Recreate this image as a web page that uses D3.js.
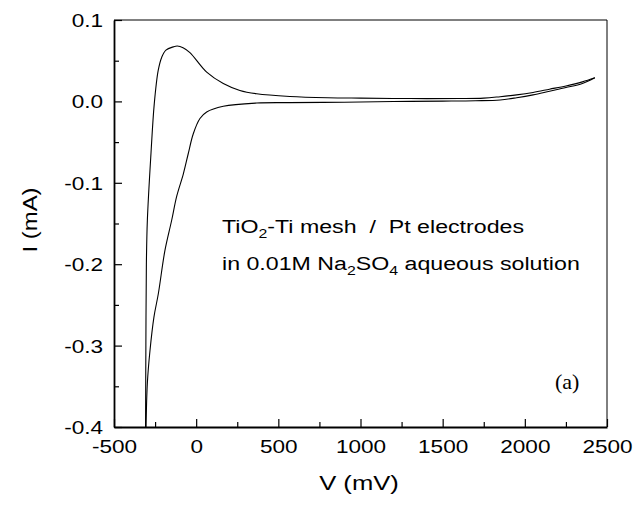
<!DOCTYPE html>
<html>
<head>
<meta charset="utf-8">
<script src="https://cdn.jsdelivr.net/npm/d3@7"></script>
<style>
  html, body { margin: 0; padding: 0; background: #fff; }
  svg { display: block; }
  text { font-family: "Liberation Sans", Arial, Helvetica, sans-serif; fill: #000; white-space: pre; }
</style>
</head>
<body>
<svg id="chart" width="637" height="507"></svg>
<script>
// ---- data ----
const forwardV = [-308, -306, -303, -297, -275, -255, -231, -210, -184, -139, -115, -80, -38, 64, 165, 266, 368, 570, 800, 1000, 1300, 1600, 1750, 1850, 1950, 2050, 2150, 2250, 2350, 2426];
const forwardI = [-0.4, -0.3, -0.2, -0.146, -0.064, -0.003, 0.038, 0.054, 0.063, 0.067, 0.068, 0.066, 0.060, 0.036, 0.022, 0.0135, 0.0094, 0.0061, 0.0045, 0.004, 0.0035, 0.0035, 0.004, 0.0058, 0.008, 0.011, 0.015, 0.019, 0.024, 0.029];
const reverseV = [2426, 2350, 2250, 2150, 2050, 1950, 1850, 1700, 1500, 1200, 900, 570, 368, 165, 64, 23, -18, -48, -78, -119, -149, -190, -230, -257, -281, -297, -305];
const reverseI = [0.029, 0.022, 0.017, 0.0125, 0.008, 0.0045, 0.0018, 0.0008, 0.0003, -0.0002, -0.001, -0.0015, -0.002, -0.006, -0.013, -0.021, -0.040, -0.064, -0.089, -0.117, -0.146, -0.183, -0.236, -0.265, -0.306, -0.346, -0.4];
const xTicks = [-500, 0, 500, 1000, 1500, 2000, 2500];
const xMinor = [-250, 250, 750, 1250, 1750, 2250];
const yTicks = [-0.4, -0.3, -0.2, -0.1, 0.0, 0.1];
const yMinor = [-0.35, -0.25, -0.15, -0.05, 0.05];
const xTitle = "V (mV)";
const yTitle = "I (mA)";

// ---- layout ----
const L = 114, R = 607, T = 20, B = 427;
const SX = 1.22; // horizontal stretch of the reference's text
const svg = d3.select("#chart");
const x = d3.scaleLinear().domain([-500, 2500]).range([L, R]);
const y = d3.scaleLinear().domain([-0.4, 0.1]).range([B, T]);
const hyph = f => (d => f(d).replace("\u2212", "-"));

// frame (top/right thin)
svg.append("line").attr("x1", L).attr("x2", R).attr("y1", T).attr("y2", T).attr("stroke", "#000").attr("stroke-width", 1);
svg.append("line").attr("x1", R).attr("x2", R).attr("y1", T).attr("y2", B).attr("stroke", "#000").attr("stroke-width", 1);

// bottom axis
const gx = svg.append("g").attr("transform", `translate(0,${B})`)
  .call(d3.axisBottom(x).tickValues(xTicks).tickSizeInner(-8).tickSizeOuter(0).tickPadding(13).tickFormat(hyph(d3.format("d"))));
svg.append("g").attr("transform", `translate(0,${B})`)
  .call(d3.axisBottom(x).tickValues(xMinor).tickSizeInner(-5).tickSizeOuter(0).tickFormat(""))
  .call(g => g.select(".domain").remove());
// left axis
const gy = svg.append("g").attr("transform", `translate(${L},0)`)
  .call(d3.axisLeft(y).tickValues(yTicks).tickSizeInner(-8).tickSizeOuter(0).tickFormat(hyph(d3.format(".1f"))));
svg.append("g").attr("transform", `translate(${L},0)`)
  .call(d3.axisLeft(y).tickValues(yMinor).tickSizeInner(-5).tickSizeOuter(0).tickFormat(""))
  .call(g => g.select(".domain").remove());

svg.selectAll(".tick line").attr("stroke", "#000").attr("stroke-width", 1.2);
gx.select(".domain").attr("stroke", "#000").attr("stroke-width", 1.8);
gy.select(".domain").attr("stroke", "#000").attr("stroke-width", 1.8);
gx.selectAll(".tick text").attr("font-size", 18.5).attr("fill", "#000").attr("transform", `scale(${SX},1)`);
gy.selectAll(".tick text").attr("font-size", 18.5).attr("fill", "#000")
  .attr("x", -11 / SX).attr("dy", "0.35em").attr("transform", `scale(${SX},1)`);

// curves
const line = d3.line().x(d => x(d[0])).y(d => y(d[1])).curve(d3.curveCatmullRom.alpha(0.5));
const fwd = forwardV.map((v, i) => [v, forwardI[i]]);
const rev = reverseV.map((v, i) => [v, reverseI[i]]);
svg.append("clipPath").attr("id", "clip").append("rect").attr("x", L).attr("y", T).attr("width", R - L).attr("height", B - T + 1);
[fwd, rev].forEach(data => {
  svg.append("path").datum(data).attr("d", line).attr("fill", "none").attr("stroke", "#000").attr("stroke-width", 1.1)
    .attr("clip-path", "url(#clip)");
});

// axis titles
svg.append("text").attr("transform", `translate(359,490) scale(${SX},1)`).attr("text-anchor", "middle")
  .attr("font-size", 21).text(xTitle);
svg.append("text").attr("transform", `translate(37,220) rotate(-90) scale(1.14,1)`).attr("text-anchor", "middle")
  .attr("font-size", 21).text(yTitle);

// annotation
const a1 = svg.append("text").attr("transform", `translate(222,233) scale(${SX},1)`).attr("font-size", 19);
a1.append("tspan").text("TiO");
a1.append("tspan").attr("font-size", 13).attr("dy", 5).text("2");
a1.append("tspan").attr("dy", -5).text("-Ti mesh  /  Pt electrodes");
const a2 = svg.append("text").attr("transform", `translate(222,270) scale(${SX},1)`).attr("font-size", 19);
a2.append("tspan").text("in 0.01M Na");
a2.append("tspan").attr("font-size", 13).attr("dy", 5).text("2");
a2.append("tspan").attr("dy", -5).text("SO");
a2.append("tspan").attr("font-size", 13).attr("dy", 5).text("4");
a2.append("tspan").attr("dy", -5).text(" aqueous solution");

svg.append("text").attr("transform", `translate(555,389) scale(1.1,1)`).attr("font-family", "Liberation Serif, 'Times New Roman', serif")
  .style("font-family", "'Liberation Serif', 'Times New Roman', serif").attr("font-size", 20).text("(a)");
</script>
</body>
</html>
